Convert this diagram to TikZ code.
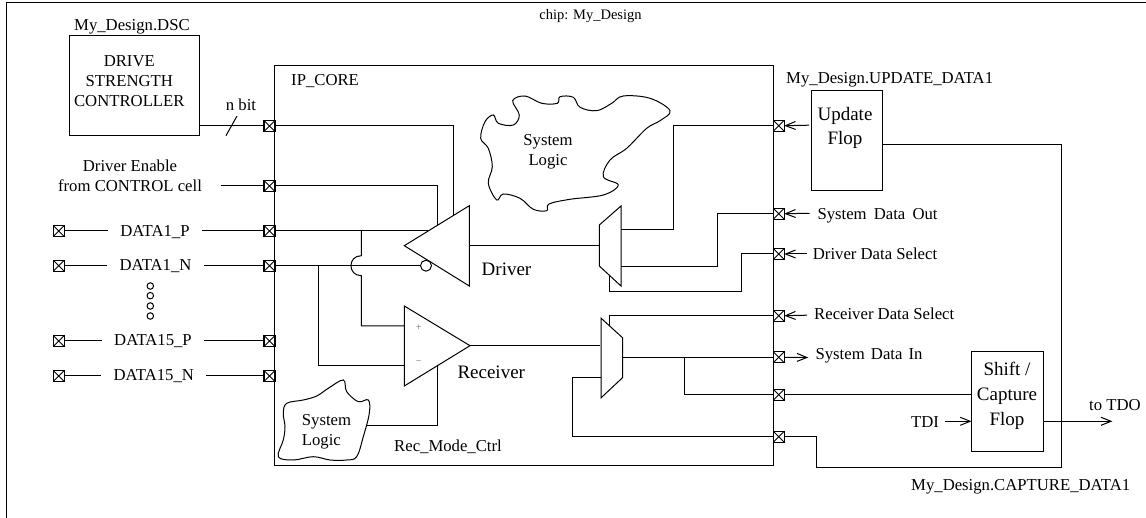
\documentclass[tikz,border=0pt]{standalone}
\usepackage{fontspec}
\setmainfont{Liberation Serif}
\usetikzlibrary{arrows.meta}
\tikzset{
 x=1pt,y=-1pt,
 wire/.style={line width=1pt,draw=black,line join=miter},
 flat/.style={draw=black,line width=1pt,minimum width=#1,inner sep=0pt,outer sep=0pt},
 blob/.style={line width=1pt,draw=black},
 arr/.style={line width=1pt,draw=black,-{Straight Barb[length=10pt,width=8pt,line width=1pt]}},
 lbl/.style={inner sep=0pt,font=\fontsize{16.7}{20}\selectfont,align=center},
 big/.style={inner sep=0pt,font=\fontsize{19}{24}\selectfont,align=center},
 gaplbl/.style={lbl,inner xsep=12pt,inner ysep=0pt},
 sign/.style={inner sep=0pt,text=black!60,font=\fontsize{10}{10}\selectfont},
 dotc/.style={circle,draw=black,line width=1pt,minimum size=6.5pt,inner sep=0pt},
 bubble/.style={circle,draw=black,line width=1pt,fill=white,minimum size=11pt,inner sep=0pt,outer sep=0pt},
 pad/.style={draw=black,line width=1.3pt,fill=white,minimum size=11pt,inner sep=0pt,outer sep=0pt,
   path picture={\draw[line width=.9pt] (path picture bounding box.north west)--(path picture bounding box.south east) (path picture bounding box.north east)--(path picture bounding box.south west);}},
}
\begin{document}
\begin{tikzpicture}
\useasboundingbox (0,0) rectangle (1146,518);
% chip outline
\coordinate (fb) at (6.5,518); \coordinate (fc) at (6.5,2.5); \coordinate (fr) at (1146,2.5);
\draw[wire] (fb)--(fc)--(fr);
\node[lbl,anchor=base,font=\fontsize{14.5}{17}\selectfont] (chip) at (590.5,20) {chip: My\_Design};
% boxes
\node[flat=499pt,minimum height=399.7pt] (core) at (523.7,265.85) {};
\node[flat=129.5pt,minimum height=100pt] (dscbox) at (134.25,85.7) {};
\node[flat=70.6pt,minimum height=99.3pt] (upd) at (847,140.65) {};
\node[flat=72pt,minimum height=100pt] (shf) at (1007.6,401.7) {};
\node[lbl,anchor=base west] (dsc) at (74,30.7) {My\_Design.DSC};
\node[lbl] (dsctxt) at (129.3,81.5) {DRIVE\\STRENGTH\\CONTROLLER};
\node[lbl,anchor=base west] (corelbl) at (291,86) {IP\_CORE};
\node[big] (updlbl) at (845,128) {Update\\Flop};
\node[big,font=\fontsize{19}{25}\selectfont] (shflbl) at (1007,396) {Shift /\\Capture\\Flop};
% text labels
\node[lbl,anchor=base] (nbit) at (241,111) {n bit};
\node[lbl] (enlbl) at (130,176) {Driver Enable\\from CONTROL cell};
\node[gaplbl,anchor=base] (tc) at (155,236.5) {DATA1\_P};
\node[gaplbl,anchor=base] (td) at (155.5,271) {DATA1\_N};
\node[gaplbl,anchor=base] (te) at (153,346) {DATA15\_P};
\node[gaplbl,anchor=base] (tf) at (153.8,381) {DATA15\_N};
\node[big,anchor=base west] (drvlbl) at (481.5,276) {Driver};
\node[big,anchor=base west] (reclbl) at (457.3,379) {Receiver};
\node[lbl,anchor=base west] (rmc) at (394,451) {Rec\_Mode\_Ctrl};
\node[lbl,anchor=base west] (updname) at (786,83.3) {My\_Design.UPDATE\_DATA1};
\node[lbl,anchor=base west] (capname) at (911,490.7) {My\_Design.CAPTURE\_DATA1};
\node[lbl,anchor=base west] (tsd) at (817.3,219.3) {System\hspace{3pt} Data\hspace{3pt} Out};
\node[lbl,anchor=base west] (tds) at (812.7,260) {Driver Data Select};
\node[lbl,anchor=base west] (trs) at (814,320) {Receiver Data Select};
\node[lbl,anchor=base west] (tsi) at (815.4,360) {System\hspace{2pt} Data\hspace{2pt} In};
\node[lbl,anchor=base west] (ttdi) at (911,428) {TDI};
\node[lbl,anchor=base west] (ttdo) at (1089,410) {to TDO};
% dots
\foreach \i/\y in {1/286,2/295.7,3/306,4/316}{\node[dotc] (dot\i) at (150.3,\y) {};}
% pads
\foreach \n/\y in {a/126,b/186,c/231,d/265.7,e/341,f/376}{\node[pad] (p\n) at (269.5,\y) {};}
\foreach \n/\y in {c/231,d/265.7,e/341,f/376}{\node[pad] (q\n) at (58.7,\y) {};}
\foreach \n/\y in {ur/125.7,sd/213.7,ds/254,rs/315.7,si/357.3,cf/394.7,cd/436.7}{\node[pad] (r\n) at (778.7,\y) {};}
% driver triangle
\coordinate (dt) at (404.3,245.7); \coordinate (du) at (469.3,205.7); \coordinate (dl) at (469.3,286);
\coordinate (dout) at (469.3,245.7);
\draw[wire] (dt)--(du)--(dl)--cycle;
\node[bubble] (bub) at (426,265.7) {};
% receiver triangle
\coordinate (rb1) at (404.3,306); \coordinate (rb2) at (404.3,386); \coordinate (rt) at (470,345.7);
\draw[wire] (rb1)--(rt)--(rb2)--cycle;
\node[sign] (plus) at (418.7,328) {+};
\node[sign] (minus) at (418.7,363) {−};
% muxes
\coordinate (m1a) at (599.3,225); \coordinate (m1b) at (621,206); \coordinate (m1c) at (621,286); \coordinate (m1d) at (599.3,266);
\draw[wire] (m1a)--(m1b)--(m1c)--(m1d)--cycle;
\coordinate (m2a) at (601.2,318.3); \coordinate (m2b) at (622.5,337.7); \coordinate (m2c) at (622.5,377.7); \coordinate (m2d) at (601.2,397.7);
\draw[wire] (m2a)--(m2b)--(m2c)--(m2d)--cycle;
% blobs
\draw[blob] plot[smooth cycle,tension=0.6] coordinates {
 (512.7,100.7)(525,96)(541.7,103.3)(557.3,103.3)(560,96.7)(573.3,97.3)(580,107.3)(596.7,110.7)(611.7,103.3)(623.3,96)(650,98.3)(670,110.7)(660,120.7)(646.7,128.3)(626.7,148.3)(610,160)(603.3,176.7)(618.3,185)(603.3,195)(570,199.3)(549,204)(546.7,210.7)(533.3,209.3)(520,198.3)(503.3,194)(496.7,200)(488.3,183.3)(492.3,166.7)(488.3,148.3)(480.7,138.3)(485,121.7)(493.3,115)(498.3,123.3)(513.3,125)(519.3,115)};
\node[lbl] (sl1) at (548,152) {System\\Logic};
\draw[blob] plot[smooth cycle,tension=0.6] coordinates {
 (283.3,413.3)(286.7,403.3)(303.3,400)(316.7,396)(328.3,388.3)(343.3,380)(346.7,391.7)(358.3,401.7)(368.3,400)(369.3,413.3)(363.3,436.7)(356.7,456.7)(346.7,460)(330,460)(313.3,456.7)(293.3,460)(278.3,456.7)(283.3,440)(285,426.7)};
\node[lbl,anchor=base west,align=left] (sl2a) at (301.7,426) {System};
\node[lbl,anchor=base west,align=left] (sl2b) at (301.7,446) {Logic};
% wires left
\draw[wire] (dscbox.east |- pa.west) -- (pa.west);
\coordinate (sl1c) at (226,135.7); \coordinate (sl2c) at (237,116);
\draw[wire] (sl1c)--(sl2c);
\coordinate (enst) at (220.7,186);
\draw[wire] (enst)--(pb.west);
\foreach \n in {c,d,e,f}{\draw[wire] (q\n.east)--(q\n.east -| t\n.west) (p\n.west -| t\n.east)--(p\n.west);}
% n-bit into driver
\coordinate (da1) at (453.3,126); \coordinate (da2) at (453.3,215.5);
\draw[wire] (pa.east)--(da1)--(da2);
\coordinate (db1) at (437.3,186); \coordinate (db2) at (437.3,225.4);
\draw[wire] (pb.east)--(db1)--(db2);
\coordinate (dc) at (428,231);
\draw[wire] (pc.east)--(dc);
\draw[wire] (pd.east)--(bub.west);
% to receiver
\coordinate (h0) at (361.3,231); \coordinate (h1) at (361.3,255.7); \coordinate (h2) at (361.3,275.7); \coordinate (h3) at (361.3,326); \coordinate (rp) at (404.3,326);
\draw[wire] (h0)--(h1) .. controls (347.5,255.7) and (347.5,275.7) .. (h2)--(h3)--(rp);
\coordinate (n0) at (318.3,265.7); \coordinate (n1) at (318.3,365.7); \coordinate (rn) at (404.3,365.7);
\draw[wire] (n0)--(n1)--(rn);
\coordinate (lg) at (366,425.3); \coordinate (lg1) at (437.3,425.3); \coordinate (lg2) at (437.3,366.5);
\draw[wire] (lg)--(lg1)--(lg2);
% driver out
\coordinate (m1in) at (599.3,245.7);
\draw[wire] (dout)--(m1in);
\coordinate (o1) at (621,230); \coordinate (o1a) at (673.3,230); \coordinate (o1b) at (673.3,125.7);
\draw[wire] (o1)--(o1a)--(o1b)--(rur.west);
\coordinate (o2) at (621,267); \coordinate (o2a) at (717.7,267); \coordinate (o2b) at (717.7,213.7);
\draw[wire] (o2)--(o2a)--(o2b)--(rsd.west);
\coordinate (o3) at (609.3,276); \coordinate (o3a) at (609.3,292); \coordinate (o3b) at (741,292); \coordinate (o3c) at (741,254);
\draw[wire] (o3)--(o3a)--(o3b)--(o3c)--(rds.west);
% receiver out
\coordinate (m2in) at (599.5,345.7);
\draw[wire] (rt)--(m2in);
\coordinate (s1) at (609.4,325.3); \coordinate (s1a) at (609.4,315.7);
\draw[wire] (s1)--(s1a)--(rrs.west);
\coordinate (m2o) at (622.5,357.3); \coordinate (br) at (684.7,357.3); \coordinate (br1) at (684.7,394.7);
\draw[wire] (m2o)--(rsi.west) (br)--(br1)--(rcf.west);
\draw[wire] (rcf.east)--(rcf.east -| shf.west);
\coordinate (m2l) at (601.2,377.3); \coordinate (m2l1) at (572.4,377.3); \coordinate (m2l2) at (572.4,436.7);
\draw[wire] (m2l)--(m2l1)--(m2l2)--(rcd.west);
\coordinate (c1) at (816.6,436.7); \coordinate (c2) at (816.6,467.7); \coordinate (c3) at (1061.5,467.7); \coordinate (c4) at (1061.5,145);
\draw[wire] (rcd.east)--(c1)--(c2)--(c3)--(c4)--(c4 -| upd.east);
% arrows
\coordinate (au) at (809,125.2); \draw[arr] (au)--(rur.east);
\coordinate (as) at (809.7,213.3); \draw[arr] (as)--(rsd.east);
\coordinate (ad) at (807,254); \draw[arr] (ad)--(rds.east);
\coordinate (ar) at (807,315.2); \draw[arr] (ar)--(rrs.east);
\coordinate (ai) at (808.3,357.5); \draw[arr] (rsi.east)--(ai);
\coordinate (at1) at (944.6,421.3); \draw[arr] (at1)--(at1 -| shf.west);
\coordinate (at2) at (1112.4,421.3); \draw[arr] (at2 -| shf.east)--(at2);
\end{tikzpicture}
\end{document}
